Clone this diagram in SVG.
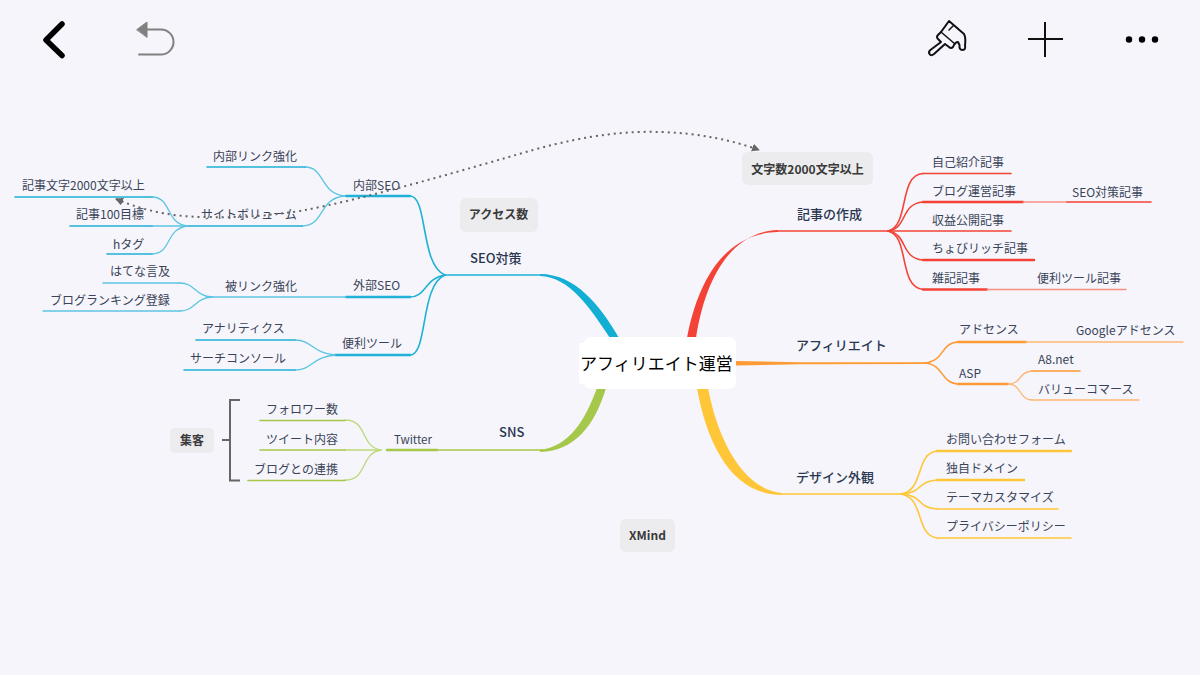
<svg xmlns="http://www.w3.org/2000/svg" width="1200" height="675" viewBox="0 0 1200 675">
<style>
text{font-family:"Noto Sans CJK JP","Noto Sans",sans-serif;fill:#3a4458;font-size:12px}
.m{font-size:13px;fill:#2a3550;font-weight:500}
.n{font-size:12px;font-weight:700;fill:#3a3a3a;text-anchor:middle}
.c{font-size:17px;fill:#000}
.b{fill:#ececee}
path,line{fill:none;stroke-linecap:round}
.t{stroke:none}
.bl{stroke:#1fb1d6;stroke-width:1.6}.bc{stroke:#5cc5e2;stroke-width:1.3}
.r{stroke:#f44336;stroke-width:1.6}.rc{stroke:#fa8f86;stroke-width:1.3}
.o{stroke:#ff9a35;stroke-width:1.6}.oc{stroke:#ffb673;stroke-width:1.3}
.y{stroke:#ffc737;stroke-width:1.6}
.g{stroke:#a5c84a;stroke-width:1.6}.gc{stroke:#bdd87a;stroke-width:1.3}
.h{stroke-width:2.4}
.ah{fill:#666;stroke:none}
</style>
<defs>
<marker id="ah" markerWidth="10" markerHeight="10" refX="7" refY="4" orient="auto-start-reverse" markerUnits="userSpaceOnUse"><path class="ah" d="M0 0L8 4L0 8Z"/></marker>
</defs>
<rect width="1200" height="675" fill="#f5f5fb"/>
<g id="connectors">
<path class="t" style="fill:#12aed3" d="M540 274C575 274 600 305 619 338L610 338C590 308 570 277 540 276Z"/>
<path class="t" style="fill:#f44336" d="M778 230C730 232 705 280 696 338L687 338C698 280 725 233 778 232Z"/>
<path class="t" style="fill:#ff9a35" d="M736 361L800 362.200L925 362.300L925 364L800 364.200L736 365.500Z"/>
<path class="t" style="fill:#ffc737" d="M697 388C708 450 735 495 782 495L782 493C748 490 720 450 708 388Z"/>
<path class="t" style="fill:#a5c84a" d="M606 388C595 425 575 451 540 452L540 450C570 446 585 420 597 388Z"/>
<path class="bl" d="M445 275H545"/>
<path class="bl" d="M410 196C428 196 420 265 445 275"/><path class="bl h" d="M346 196H410"/>
<path class="bl" d="M410 297C426 297 425 278 445 275"/><path class="bl h" d="M346 297H410"/>
<path class="bl" d="M410 355C428 355 420 285 445 275"/><path class="bl h" d="M335 355H410"/>
<path class="bc" d="M305 167C325 167 320 194 345 196"/><path class="bl" d="M207 167H305"/>
<path class="bc" d="M302 226C325 226 318 198 345 196"/><path class="bl" d="M188 226H302"/>
<path class="bc" d="M152 197C172 197 165 224 188 226"/><path class="bl" d="M15 197H152"/>
<path class="bc" d="M152 226H188"/><path class="bl" d="M70 226H152"/>
<path class="bc" d="M152 254C172 254 165 228 188 226"/><path class="bl" d="M107 254H152"/>
<path class="bc" d="M212 297H346"/>
<path class="bc" d="M180 283C195 283 195 296 212 297"/><path class="bc" d="M103 283H180"/>
<path class="bc" d="M180 311C195 311 195 298 212 297"/><path class="bc" d="M43 311H180"/>
<path class="bc" d="M295 340C312 340 312 353 335 355"/><path class="bl" d="M196 340H295"/>
<path class="bc" d="M295 370C312 370 312 357 335 355"/><path class="bl" d="M184 370H295"/>
<path class="g" d="M437 450H545"/><path class="g h" d="M387 450H437"/>
<path class="gc" d="M345 420C368 420 360 447 381 450"/><path class="g" d="M260 420.500H345"/>
<path class="gc" d="M345 450H381"/><path class="g" d="M260 450H345"/>
<path class="gc" d="M345 480C368 480 360 453 381 450"/><path class="g" d="M248 480.500H345"/>
<path class="r" d="M778 231H888"/>
<path class="r" d="M888 231C910 226 898 175 923 173.500"/><path class="r" d="M923 173.500H1011"/>
<path class="r" d="M888 231C908 228 900 204 923 202"/><path class="r h" d="M923 202H1023"/><path class="rc" d="M1023 202H1067"/><path class="r" d="M1067 202H1151"/>
<path class="r" d="M888 231H1011"/>
<path class="r" d="M888 231C908 234 900 258 923 260"/><path class="r h" d="M923 260H1034"/>
<path class="r" d="M888 231C910 236 898 287 923 289.500"/><path class="r h" d="M923 289.500H987"/><path class="rc" d="M987 289.500H1126"/>
<path class="o" d="M925 363C945 361 940 343 958 342"/><path class="o h" d="M958 342H1026"/><path class="oc" d="M1026 342H1183"/>
<path class="o" d="M925 363C945 365 940 383 958 384"/><path class="o h" d="M958 384H1008"/>
<path class="oc" d="M1008 384C1022 384 1018 372 1032 371"/><path class="o" d="M1032 371H1080"/>
<path class="oc" d="M1008 384C1022 384 1018 399 1032 400"/><path class="oc" d="M1032 400H1139"/>
<path class="y" d="M780 494H905"/>
<path class="y" d="M901 494C925 490 915 453 937 451"/><path class="y h" d="M937 451H1071"/>
<path class="y" d="M901 494C925 492 915 482 937 480"/><path class="y h" d="M937 480H1024"/>
<path class="y" d="M901 494C925 496 915 507 937 509"/><path class="y" d="M937 509H1058"/>
<path class="y" d="M901 494C925 498 915 535 937 538"/><path class="y" d="M937 538H1071"/>
<path d="M222 440H230M240 400H230V480.500H240" style="stroke:#666;stroke-width:2;stroke-linecap:butt"/>
</g>
<g id="toolbar">
<path d="M62 24L46 40L62 55.500" style="stroke:#000;stroke-width:5.500;stroke-linejoin:round"/>
<path d="M137 29.500L147 22V37Z" style="fill:#808080;stroke:#808080;stroke-linejoin:round"/>
<path d="M147 29.500H161A12.500 12.500 0 0 1 161 54.500H139" style="stroke:#808080;stroke-width:2"/>
<path d="M949 21L964 34Q966 38 965 45Q966 50 962.500 50Q959 50 959.500 45L958 42Q955 42 953 47Q951 49 949 47L945 44L934 54Q931 56.500 929.500 54Q928 51.500 931 49.500L941 42L938 39Q936 37 938 35L941 32Z" style="stroke:#111;stroke-width:2;stroke-linejoin:round"/>
<path d="M941 32L955 44M949 30L953 26" style="stroke:#111;stroke-width:1.500"/>
<path d="M1028 39H1063M1045 22V57" style="stroke:#111;stroke-width:2;stroke-linecap:butt"/>
<circle cx="1129" cy="39.500" r="3.200"/><circle cx="1142" cy="39.500" r="3.200"/><circle cx="1155" cy="39.500" r="3.200"/>
</g>
<g id="center"><rect x="584" y="337" width="152" height="52" rx="6" fill="#fff"/><rect x="579" y="343" width="20" height="41" fill="#fff"/><text class="c" x="580" y="370">アフィリエイト運営</text></g>
<g id="n-seo"><text class="m" x="470" y="263">SEO対策</text></g>
<g id="n-int"><text x="353" y="190">内部SEO</text></g>
<g id="n-intlink"><text x="213" y="161">内部リンク強化</text></g>
<g id="n-vol"><text x="201" y="219">サイトボリューム</text></g>
<g id="n-2000"><text x="22" y="190">記事文字2000文字以上</text></g>
<g id="n-100"><text x="76" y="219">記事100目標</text></g>
<g id="n-h"><text x="113" y="249">hタグ</text></g>
<g id="n-ext"><text x="353" y="290">外部SEO</text></g>
<g id="n-back"><text x="225" y="291">被リンク強化</text></g>
<g id="n-hatena"><text x="110" y="276">はてな言及</text></g>
<g id="n-rank"><text x="50" y="305">ブログランキング登録</text></g>
<g id="n-tool"><text x="342" y="348">便利ツール</text></g>
<g id="n-ana"><text x="202" y="333">アナリティクス</text></g>
<g id="n-sc"><text x="190" y="363">サーチコンソール</text></g>
<g id="n-sns"><text class="m" x="499" y="437">SNS</text></g>
<g id="n-tw"><text x="394" y="444" style="font-size:11.500px">Twitter</text></g>
<g id="n-fol"><text x="266" y="414">フォロワー数</text></g>
<g id="n-tweet"><text x="266" y="444">ツイート内容</text></g>
<g id="n-blog"><text x="254" y="474">ブログとの連携</text></g>
<g id="n-shu"><rect class="b" x="170" y="428" width="44" height="25" rx="5"/><text class="n" x="192" y="445">集客</text></g>
<g id="n-access"><rect class="b" x="460" y="198" width="78" height="34" rx="6"/><text class="n" x="498.500" y="219">アクセス数</text></g>
<g id="n-moji"><rect class="b" x="742" y="152" width="131" height="33" rx="6"/><text class="n" x="807.500" y="174">文字数2000文字以上</text></g>
<g id="n-xmind"><rect class="b" x="620" y="519" width="55" height="33" rx="6"/><text class="n" x="647.500" y="540">XMind</text></g>
<g id="n-article"><text class="m" x="797" y="219">記事の作成</text></g>
<g id="n-self"><text x="932" y="167">自己紹介記事</text></g>
<g id="n-blogop"><text x="932" y="196">ブログ運営記事</text></g>
<g id="n-seoart"><text x="1072" y="197">SEO対策記事</text></g>
<g id="n-rev"><text x="932" y="225">収益公開記事</text></g>
<g id="n-chobi"><text x="932" y="253">ちょびリッチ記事</text></g>
<g id="n-zakki"><text x="932" y="283">雑記記事</text></g>
<g id="n-benri"><text x="1037" y="283">便利ツール記事</text></g>
<g id="n-aff"><text class="m" x="796" y="350">アフィリエイト</text></g>
<g id="n-ads"><text x="959" y="334">アドセンス</text></g>
<g id="n-gads"><text x="1076" y="335">Googleアドセンス</text></g>
<g id="n-asp"><text x="959" y="378">ASP</text></g>
<g id="n-a8"><text x="1038" y="364">A8.net</text></g>
<g id="n-value"><text x="1038" y="394">バリューコマース</text></g>
<g id="n-design"><text class="m" x="796" y="482">デザイン外観</text></g>
<g id="n-form"><text x="946" y="444">お問い合わせフォーム</text></g>
<g id="n-domain"><text x="946" y="473">独自ドメイン</text></g>
<g id="n-theme"><text x="946" y="502">テーマカスタマイズ</text></g>
<g id="n-privacy"><text x="946" y="531">プライバシーポリシー</text></g>
<g id="relationships">
<path d="M116 199C135 207 165 217 205 217C250 218 270 215 300 211C370 198 470 168 533 150C590 134 630 131 660 132C700 133 735 141 759 150" marker-start="url(#ah)" marker-end="url(#ah)" style="stroke:#666;stroke-width:2;stroke-dasharray:2 4;stroke-linecap:butt"/>
</g>
</svg>
